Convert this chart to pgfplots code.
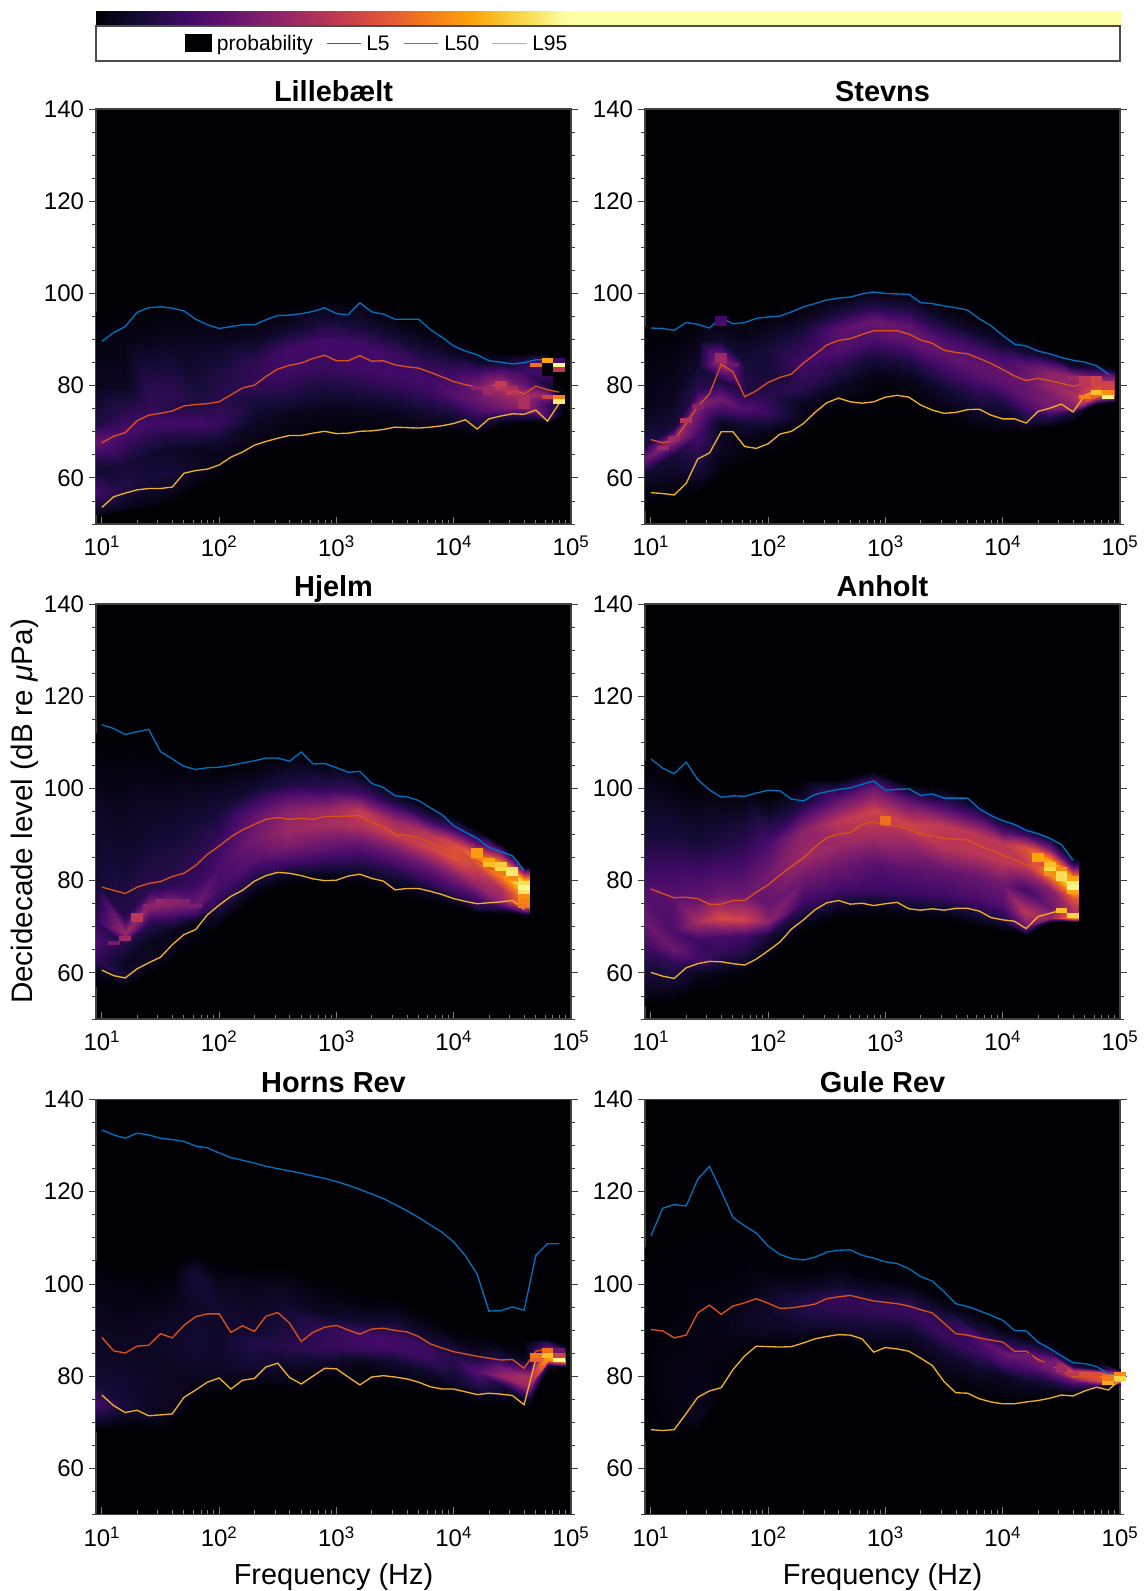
\documentclass[border=0pt]{standalone}
\usepackage{fontspec}
\setmainfont{Liberation Sans}
\usepackage{pgfplots}
\usepackage{pgfplotstable}
\pgfplotsset{compat=1.18}
\definecolor{cL5}{HTML}{0072BD}
\definecolor{cL50}{HTML}{D95319}
\definecolor{cL95}{HTML}{EDB120}
\pgfdeclareplotmark{cell}{\pgfpathrectangle{\pgfpoint{-4.4pt}{-1.73pt}}{\pgfpoint{8.8pt}{3.46pt}}\pgfusepathqfill}
\pgfplotsset{colormap={inf}{rgb255=(0,0,4) rgb255=(22,11,57) rgb255=(66,10,104) rgb255=(106,23,110) rgb255=(147,38,103) rgb255=(188,55,84) rgb255=(221,81,58) rgb255=(243,120,25) rgb255=(252,165,10) rgb255=(246,215,70) rgb255=(252,255,164)}}
\newcommand{\beginpanel}[3]{\begin{axis}[xmode=log,xmin=8.9125,xmax=100000,ymin=50,ymax=140,
 scale only axis,width=356.25pt,height=311.25pt,
 xtick={10,100,1000,10000,100000},
 xticklabels={10\textsuperscript{1},10\textsuperscript{2},10\textsuperscript{3},10\textsuperscript{4},10\textsuperscript{5}},
 ytick={60,80,100,120,140},minor ytick={50,55,...,140},
 xtick pos=bottom,ytick pos=both,tick align=outside,
 major tick length=5.5pt,minor tick length=3pt,
 tick style={black!75,line width=.6pt},
 major x tick style={gray,yshift=5.5pt},minor x tick style={gray,yshift=3pt},
 axis line style={black!75,line width=.8pt},
 axis background/.style={fill={rgb,255:red,0;green,0;blue,4}},
 point meta min=0,point meta max=1,
 tick label style={font=\fontsize{18}{20}\selectfont},
 /pgf/number format/assume math mode=true,
 title style={font=\fontsize{21.7}{24}\bfseries\selectfont,at={(0.5,1)},anchor=base,yshift=-0.5pt},
 xlabel style={font=\fontsize{21.7}{24}\selectfont},
 ylabel style={font=\fontsize{22.2}{24}\selectfont},
 xlabel shift=6pt,ylabel shift=-3pt,
 at={(#1,#2)},anchor=south west,#3]}
\newcommand{\heatplot}{\addplot[surf,shader=interp,mesh/ordering=y varies,mesh/rows=8,point meta=explicit] table[x=f,y=y,meta=c]}
\newcommand{\cellplot}{\addplot[scatter,only marks,mark=cell,scatter src=explicit,scatter/use mapped color={draw=none,fill=mapped color}] table[x=f,y=y,meta=c]}
\newcommand{\lines}[1]{
\addplot[cL5,line width=1pt,no marks] table[x=f,y=a]{#1};
\addplot[cL50,line width=1pt,no marks] table[x=f,y=b]{#1};
\addplot[cL95,line width=1pt,no marks] table[x=f,y=c]{#1};
}
\pgfplotstableread{
f a b c
10 89.6 67.6 53.6
12.6 91.5 69.0 55.9
15.8 92.8 69.8 56.7
20 95.9 72.4 57.4
25.1 96.9 73.6 57.7
31.6 97.1 74.0 57.7
39.8 96.8 74.5 58.0
50.1 96.2 75.6 61.0
63.1 94.4 75.9 61.6
79.4 93.2 76.1 61.9
100 92.4 76.5 62.8
126 92.8 78.0 64.5
158 93.2 79.5 65.6
200 93.2 80.1 67.1
251 94.3 82.0 67.9
316 95.2 83.6 68.6
398 95.3 84.4 69.2
501 95.6 84.9 69.2
631 96.1 85.9 69.7
794 96.9 86.6 70.1
1000 95.6 85.4 69.6
1259 95.4 85.4 69.7
1585 98.0 86.5 70.1
1995 96.0 85.3 70.2
2512 95.5 85.4 70.5
3162 94.4 84.5 71.0
3981 94.4 84.1 70.9
5012 94.4 83.8 70.8
6310 92.2 82.9 71.0
7943 90.5 81.9 71.3
10000 88.6 80.9 71.8
12589 87.5 80.2 72.6
15849 86.7 79.7 70.6
19953 85.4 79.8 72.8
25119 85.1 80.2 73.4
31623 84.7 79.2 73.9
39811 85.0 78.2 73.8
50119 85.6 79.9 74.7
63096 85.7 79.1 72.3
79433 84.3 78.6 76.2
}\tA
\pgfplotstableread{
f a b c
10 92.5 68.3 56.8
12.6 92.4 67.6 56.6
15.8 92.0 68.2 56.3
20 93.7 71.8 58.8
25.1 93.3 75.5 64.1
31.6 92.5 78.2 65.4
39.8 94.8 84.6 70.0
50.1 93.4 83.0 70.0
63.1 93.7 77.6 66.8
79.4 94.6 78.9 66.4
100 94.9 80.7 67.4
126 95.1 81.8 69.5
158 96.0 82.5 70.1
200 97.1 84.9 71.8
251 97.8 86.8 74.2
316 98.6 88.8 76.3
398 99.0 89.8 77.3
501 99.2 90.2 76.5
631 99.9 91.1 76.2
794 100.3 91.9 76.5
1000 100.0 91.9 77.5
1259 99.9 91.9 77.9
1585 99.8 91.2 77.5
1995 98.0 89.9 75.8
2512 97.8 89.2 74.7
3162 97.3 87.7 74.0
3981 96.9 87.2 74.2
5012 96.4 86.9 74.8
6310 94.5 85.9 74.9
7943 93.0 84.8 73.6
10000 90.9 83.5 72.8
12589 89.0 82.1 72.8
15849 88.6 81.1 71.9
19953 87.5 81.6 74.4
25119 86.9 81.1 75.1
31623 86.1 80.5 76.0
39811 85.5 79.9 74.3
50119 85.1 80.4 77.9
63096 84.3 80.4 78.9
79433 82.5 79.1 78.0
}\tB
\pgfplotstableread{
f a b c
10 113.8 78.6 60.6
12.6 113.0 77.9 59.4
15.8 111.7 77.2 58.9
20 112.3 78.6 60.9
25.1 112.8 79.4 62.2
31.6 108.0 79.8 63.4
39.8 106.4 80.9 66.1
50.1 104.8 81.6 68.3
63.1 104.1 83.3 69.4
79.4 104.5 85.7 72.6
100 104.6 87.5 74.7
126 105.0 89.5 76.6
158 105.5 91.0 77.9
200 106.0 92.2 79.9
251 106.6 93.3 81.1
316 106.6 93.7 81.8
398 105.9 93.3 81.6
501 107.9 93.5 81.1
631 105.3 93.3 80.4
794 105.4 93.9 80.0
1000 104.5 93.9 80.1
1259 103.5 94.0 81.0
1585 103.7 94.1 81.4
1995 101.1 92.6 80.5
2512 100.2 91.7 79.9
3162 98.4 90.0 78.0
3981 98.2 89.8 78.3
5012 97.4 89.3 78.3
6310 95.8 88.2 77.7
7943 94.3 87.2 77.0
10000 91.9 85.7 76.1
12589 90.5 84.8 75.5
15849 89.2 84.3 75.0
19953 87.2 82.8 75.2
25119 86.3 81.9 75.4
31623 85.4 81.2 75.7
39811 82.2 78.4 73.8
}\tC
\pgfplotstableread{
f a b c
10 106.4 78.2 60.1
12.6 104.4 77.2 59.3
15.8 103.2 76.3 58.8
20 105.7 76.4 61.1
25.1 101.9 76.1 62.0
31.6 99.7 74.9 62.5
39.8 98.1 74.9 62.4
50.1 98.4 75.7 62.0
63.1 98.3 75.7 61.7
79.4 99.0 77.5 63.0
100 99.6 79.1 64.8
126 99.5 81.2 66.7
158 97.7 83.1 69.5
200 97.3 84.9 71.5
251 98.7 87.3 73.7
316 99.3 89.3 75.2
398 99.8 90.1 75.7
501 100.1 90.4 74.9
631 100.9 92.2 75.1
794 101.6 92.8 74.6
1000 99.6 91.9 75.0
1259 99.8 91.9 75.3
1585 99.9 91.1 73.9
1995 98.5 90.0 73.6
2512 98.8 89.8 73.9
3162 97.9 89.1 73.6
3981 97.9 89.0 74.0
5012 97.9 88.8 74.0
6310 95.6 87.6 73.4
7943 94.1 86.6 72.0
10000 93.0 85.5 71.5
12589 92.2 84.5 71.2
15849 90.9 83.4 69.6
19953 90.2 83.9 72.2
25119 89.2 82.6 72.9
31623 87.8 81.4 73.6
39811 84.4 78.6 72.2
}\tD
\pgfplotstableread{
f a b c
10 133.4 88.4 75.9
12.6 132.3 85.5 73.6
15.8 131.6 85.0 72.1
20 132.7 86.5 72.6
25.1 132.3 86.7 71.4
31.6 131.6 89.2 71.6
39.8 131.3 88.3 71.8
50.1 130.9 91.0 75.4
63.1 129.9 92.9 77.0
79.4 129.5 93.5 78.7
100 128.4 93.5 79.6
126 127.4 89.5 77.2
158 126.8 90.9 79.1
200 126.2 89.7 79.5
251 125.5 93.0 82.0
316 125.0 93.8 82.8
398 124.5 91.5 79.7
501 124.0 87.5 78.3
631 123.4 89.5 80.0
794 122.9 90.6 81.7
1000 122.2 91.0 81.6
1259 121.4 90.0 79.8
1585 120.5 89.1 78.1
1995 119.5 90.2 79.8
2512 118.5 90.4 80.1
3162 117.2 89.9 79.8
3981 115.9 89.6 79.4
5012 114.4 88.6 78.7
6310 112.8 87.0 77.7
7943 111.2 86.1 77.2
10000 109.1 85.3 77.2
12589 106.1 84.8 76.6
15849 102.1 84.3 76.0
19953 94.1 83.9 76.3
25119 94.2 83.5 76.1
31623 95.0 83.6 75.8
39811 94.3 81.7 73.8
50119 106.2 85.4 83.7
63096 108.7 85.9 84.4
79433 108.7 83.6 83.5
}\tE
\pgfplotstableread{
f a b c
10 110.4 90.1 68.4
12.6 116.4 89.8 68.2
15.8 117.2 88.3 68.4
20 116.9 88.9 71.9
25.1 122.7 93.7 75.4
31.6 125.5 95.4 76.8
39.8 120.1 93.4 77.5
50.1 114.4 95.2 81.4
63.1 112.6 95.9 84.4
79.4 111.0 96.8 86.5
100 108.2 95.8 86.4
126 106.4 94.7 86.3
158 105.5 94.8 86.4
200 105.2 95.2 87.2
251 105.8 95.6 88.1
316 106.9 96.8 88.6
398 107.3 97.2 89.0
501 107.4 97.5 88.9
631 106.2 96.9 88.1
794 105.6 96.3 85.2
1000 104.8 96.0 86.2
1259 104.4 95.7 85.9
1585 103.3 95.2 85.4
1995 101.6 94.4 83.9
2512 100.6 93.7 82.3
3162 98.3 91.5 78.8
3981 95.7 89.2 76.4
5012 95.1 88.9 76.3
6310 94.2 88.3 75.1
7943 93.2 87.8 74.4
10000 92.1 87.4 74.0
12589 89.9 85.4 74.0
15849 89.8 85.4 74.4
19953 87.4 83.6 74.7
25119 86.0 82.5 75.2
31623 84.4 81.4 75.9
39811 82.9 79.8 75.7
50119 82.7 79.9 76.8
63096 82.1 79.8 77.6
79433 80.5 78.6 77.0
100000 80.6 80.3 79.2
}\tF
\begin{document}
\begin{tikzpicture}
\path[use as bounding box] (0,0) rectangle (858.75pt,1193.25pt);
% colour scale
\begin{axis}[at={(72pt,1173.75pt)},anchor=south west,scale only axis,width=768pt,height=11.25pt,xmin=0,xmax=1,ymin=0,ymax=1,ticks=none,axis line style={black!70,line width=.7pt},point meta min=0,point meta max=1]
\addplot[surf,shader=interp,mesh/cols=3,point meta=explicit] table[x=x,y=y,meta=c]{
x y c
0 0 0
0.46 0 1
1 0 1
0 1 0
0.46 1 1
1 1 1
};
\end{axis}
\draw[black!70,line width=.8pt] (72pt,1147.5pt) rectangle (840pt,1173.75pt);
\fill[fill={rgb,255:red,0;green,0;blue,4}] (138.5pt,1154pt) rectangle (159pt,1168pt);
\node[anchor=base west,inner sep=0pt,font=\fontsize{15.8}{18}\selectfont] at (162.5pt,1155pt) {probability};
\draw[cL5,line width=1pt] (245pt,1160.5pt) -- (271pt,1160.5pt);
\node[anchor=base west,inner sep=0pt,font=\fontsize{15.8}{18}\selectfont] at (274.5pt,1155pt) {L5};
\draw[cL50,line width=1pt] (303pt,1160.5pt) -- (328.5pt,1160.5pt);
\node[anchor=base west,inner sep=0pt,font=\fontsize{15.8}{18}\selectfont] at (333pt,1155pt) {L50};
\draw[cL95,line width=1pt] (369pt,1160.5pt) -- (395pt,1160.5pt);
\node[anchor=base west,inner sep=0pt,font=\fontsize{15.8}{18}\selectfont] at (399pt,1155pt) {L95};
% Lillebaelt
\beginpanel{72pt}{800.25pt}{title={Lillebælt}}
\heatplot{
f y c
8.9 52 .03
8.9 57 .2
8.9 62 .08
8.9 68 .28
8.9 72 .12
8.9 80 .05
8.9 88 .03
8.9 96 0
15.8 53 .03
15.8 58 .12
15.8 63 .1
15.8 70 .22
15.8 74 .15
15.8 80 .05
15.8 90 .03
15.8 97 0
25.1 54 .02
25.1 60 .1
25.1 65 .08
25.1 72 .2
25.1 75 .17
25.1 79 .15
25.1 90 .04
25.1 98 0
39.8 55 .02
39.8 61 .1
39.8 66 .06
39.8 72 .2
39.8 75 .14
39.8 79 .15
39.8 90 .05
39.8 98 0
63.1 58 .01
63.1 63 .06
63.1 66 .05
63.1 72 .2
63.1 76 .12
63.1 80 .1
63.1 90 .05
63.1 97 0
100 60 0
100 64 .04
100 68 .08
100 72 .18
100 77 .14
100 82 .12
100 90 .05
100 95 0
200 64 0
200 68 .03
200 72 .06
200 76 .1
200 80 .16
200 85 .16
200 90 .06
200 95 0
398 66 0
398 70 .02
398 74 .05
398 79 .14
398 84 .2
398 88 .2
398 92 .08
398 97 0
794 68 0
794 71 .02
794 75 .04
794 79 .1
794 84 .18
794 90 .2
794 94 .1
794 99 0
1585 68 0
1585 71 .02
1585 75 .05
1585 79 .12
1585 84 .2
1585 89 .2
1585 93 .1
1585 99 0
3162 69 0
3162 72 .03
3162 75 .06
3162 79 .15
3162 83 .2
3162 87 .18
3162 91 .08
3162 96 0
6310 69 0
6310 72 .05
6310 75 .1
6310 78 .17
6310 81 .2
6310 85 .15
6310 89 .06
6310 93 0
10000 70 0
10000 72 .06
10000 75 .14
10000 78 .25
10000 81 .22
10000 84 .15
10000 87 .06
10000 91 0
15849 69 0
15849 71 .08
15849 74 .2
15849 77 .3
15849 80 .32
15849 83 .2
15849 85 .08
15849 88 0
25119 71 0
25119 73 .1
25119 75 .3
25119 78 .4
25119 80 .48
25119 83 .25
25119 85 .08
25119 87 0
39811 72 0
39811 74 .2
39811 75.5 .4
39811 78 .45
39811 80 .3
39811 83 .2
39811 85 .15
39811 87 0
63096 72 0
63096 73 .2
63096 76 .2
63096 78 .4
63096 80 .1
63096 83 .2
63096 85 .3
63096 87 0
89125 74 0
89125 75 0
89125 76 0
89125 77 0
89125 78 0
89125 80 0
89125 83 0
89125 85 0
};
\cellplot{
f y c
15849 79.5 .38
19953 79.5 .42
19953 78.5 .42
25119 80.5 .52
25119 79.5 .5
31623 79.5 .45
31623 78.5 .5
39811 77.5 .45
39811 76.5 .45
39811 75.5 .45
50119 84.5 .68
63096 85.5 .8
79433 85.5 .2
79433 84.5 .98
79433 83.5 .5
79433 77.5 .72
79433 76.5 .95
63096 77.5 .55
63096 84.5 0
63096 83.5 0
63096 82.5 0
79433 82.5 0
79433 81.5 0
79433 80.5 0
79433 79.5 .02
};
\lines{\tA}
\end{axis}
% Stevns
\beginpanel{483.75pt}{800.25pt}{title={Stevns}}
\heatplot{
f y c
8.9 53 0
8.9 57 .03
8.9 61 .08
8.9 64 .3
8.9 67 .12
8.9 75 .04
8.9 85 .02
8.9 93 0
15.8 55 0
15.8 60 .05
15.8 65 .1
15.8 68.5 .42
15.8 71 .1
15.8 78 .05
15.8 85 .03
15.8 93 0
25.1 57 0
25.1 62 .1
25.1 69 .2
25.1 76 .36
25.1 79 .15
25.1 84 .08
25.1 90 .04
25.1 95 0
39.8 60 0
39.8 66 .05
39.8 72 .05
39.8 77 .32
39.8 81 .12
39.8 85 .42
39.8 90 .08
39.8 96 0
63.1 62 0
63.1 68 .03
63.1 72 .1
63.1 75 .24
63.1 79 .12
63.1 85 .1
63.1 90 .05
63.1 95 0
100 64 0
100 70 .03
100 74 .18
100 78 .14
100 83 .1
100 88 .1
100 92 .05
100 96 0
200 68 0
200 72 .02
200 76 .05
200 80 .15
200 85 .2
200 90 .14
200 94 .06
200 98 0
398 72 0
398 76 .02
398 80 .06
398 84 .14
398 88 .24
398 92 .26
398 96 .1
398 100 0
794 73 0
794 78 .01
794 82 .03
794 86 .1
794 90 .22
794 94 .3
794 97 .14
794 101 0
1585 73 0
1585 78 .01
1585 82 .05
1585 86 .14
1585 90 .28
1585 93 .27
1585 97 .1
1585 101 0
3162 71 0
3162 75 .03
3162 79 .08
3162 83 .18
3162 87 .28
3162 90 .22
3162 94 .08
3162 98 0
6310 70 0
6310 73 .05
6310 77 .12
6310 81 .22
6310 84 .28
6310 88 .2
6310 91 .08
6310 95 0
10000 69 0
10000 72 .04
10000 76 .1
10000 80 .25
10000 83 .28
10000 86 .2
10000 89 .08
10000 92 0
15849 70 0
15849 72 .08
15849 75 .2
15849 78 .28
15849 81 .3
15849 84 .28
15849 87 .1
15849 90 0
25119 71 0
25119 73 .12
25119 75 .32
25119 78 .35
25119 80 .4
25119 83 .38
25119 86 .1
25119 88 0
39811 72 0
39811 74 .1
39811 75 .35
39811 78 .45
39811 80 .4
39811 82 .38
39811 84 .1
39811 86 0
63096 76 0
63096 77 .4
63096 78 .7
63096 79.5 .6
63096 81 .5
63096 82 .3
63096 84 .08
63096 85 0
89125 76.5 0
89125 77 .3
89125 78 .6
89125 79.5 .5
89125 81 .4
89125 82 .3
89125 83 .1
89125 84 0
};
\cellplot{
f y c
12.6 66.5 .42
15.8 68.5 .42
20 72.5 .48
25.1 75.5 .38
39.8 85.5 .42
39.8 86.5 .42
50.1 84.5 .3
39811 81.5 .42
50119 81.5 .5
50119 80.5 .5
63096 81.5 .55
63096 80.5 .55
79433 80.5 .55
50119 77.5 .72
63096 78.5 .85
79433 77.5 .97
79433 78.5 .75
79433 79.5 .55
39.8 94.5 .2
39.8 93.5 .22
};
\lines{\tB}
\end{axis}
% Hjelm
\beginpanel{72pt}{429pt}{title={Hjelm},ylabel={Decidecade level (dB re \textit{μ}Pa)}}
\heatplot{
f y c
8.9 57 0
8.9 60 .04
8.9 63 .16
8.9 67 .22
8.9 71 .15
8.9 80 .08
8.9 95 .06
8.9 112 0
15.8 57 0
15.8 59 .1
15.8 62 .05
15.8 66 .12
15.8 68.5 .42
15.8 72 .14
15.8 85 .08
15.8 112 0
25.1 60 0
25.1 63 .06
25.1 67 .05
25.1 71 .15
25.1 74.5 .4
25.1 78 .15
25.1 90 .08
25.1 110 0
39.8 62 0
39.8 65 .03
39.8 69 .05
39.8 72 .18
39.8 75 .38
39.8 79 .15
39.8 92 .08
39.8 107 0
63.1 65 0
63.1 68 .02
63.1 71 .03
63.1 73 .2
63.1 74.5 .32
63.1 79 .18
63.1 92 .1
63.1 105 0
100 70 0
100 72 .05
100 75 .14
100 78 .2
100 83 .22
100 88 .18
100 95 .1
100 105 0
200 76 0
200 78 .04
200 81 .14
200 85 .26
200 89 .32
200 94 .28
200 100 .08
200 106 0
398 79 0
398 81 .04
398 84 .2
398 88 .36
398 91 .42
398 95 .38
398 101 .12
398 108 0
794 79 0
794 81 .03
794 84 .16
794 88 .3
794 92 .44
794 95 .42
794 100 .15
794 106 0
1585 79 0
1585 81 .04
1585 84 .14
1585 88 .28
1585 92 .48
1585 95 .52
1585 99 .2
1585 104 0
3162 77 0
3162 79 .05
3162 82 .14
3162 86 .3
3162 90 .52
3162 93 .42
3162 97 .12
3162 100 0
6310 75 0
6310 77 .05
6310 79 .14
6310 83 .3
6310 87 .55
6310 90 .5
6310 93 .18
6310 96 0
10000 74 0
10000 76 .08
10000 78 .2
10000 81 .35
10000 85 .6
10000 88 .58
10000 91 .2
10000 94 0
15849 73 0
15849 74 .12
15849 76 .2
15849 79 .4
15849 83 .55
15849 85 .72
15849 88 .28
15849 91 0
25119 73 0
25119 74 .15
25119 75.5 .4
25119 78 .45
25119 81 .72
25119 83 .9
25119 85.5 .4
25119 88 0
39811 72.5 0
39811 73.5 .3
39811 75 .7
39811 77 .8
39811 78.8 .98
39811 80 .85
39811 82 .3
39811 83 0
44668 72.5 0
44668 73.5 .3
44668 75 .7
44668 77 .8
44668 78.8 .98
44668 80 .85
44668 82 .3
44668 83 0
};
\cellplot{
f y c
12.6 66.5 .33
15.8 67.5 .42
20 72.5 .5
20 71.5 .5
25.1 74.5 .38
31.6 75.5 .4
39.8 75.5 .38
50.1 75.5 .36
63.1 74.5 .34
15849 86.5 .78
15849 85.5 .78
19953 84.5 .8
19953 83.5 .85
25119 83.5 .88
25119 82.5 .9
25119 81.5 .7
31623 82.5 .93
31623 81.5 .95
31623 80.5 .75
39811 79.5 .92
39811 78.5 .98
39811 77.5 .93
39811 76.5 .75
39811 75.5 .72
39811 74.5 .7
};
\lines{\tC}
\end{axis}
% Anholt
\beginpanel{483.75pt}{429pt}{title={Anholt}}
\heatplot{
f y c
8.9 53 0
8.9 57 .06
8.9 62 .12
8.9 66 .2
8.9 71 .3
8.9 78 .24
8.9 90 .1
8.9 106 0
15.8 54 0
15.8 58 .08
15.8 62 .15
15.8 65 .3
15.8 69 .22
15.8 76 .26
15.8 90 .1
15.8 103 0
25.1 56 0
25.1 60 .05
25.1 63 .2
25.1 67 .18
25.1 71 .45
25.1 76 .28
25.1 88 .1
25.1 101 0
39.8 56 0
39.8 60 .03
39.8 64 .16
39.8 68 .22
39.8 72 .58
39.8 77 .3
39.8 88 .12
39.8 100 0
63.1 58 0
63.1 61 .03
63.1 64 .12
63.1 68 .2
63.1 71.5 .55
63.1 77 .3
63.1 88 .15
63.1 100 0
100 62 0
100 65 .03
100 68 .1
100 71 .38
100 75 .28
100 81 .32
100 88 .22
100 98 0
200 69 0
200 71 .05
200 75 .18
200 80 .3
200 85 .42
200 91 .38
200 97 .1
200 102 0
398 72 0
398 74 .05
398 78 .2
398 83 .3
398 88 .42
398 93 .5
398 98 .25
398 102 0
794 72 0
794 74 .03
794 78 .18
794 84 .26
794 90 .45
794 95 .55
794 100 .3
794 104 0
1585 71 0
1585 73 .03
1585 77 .18
1585 82 .26
1585 88 .4
1585 92 .55
1585 97 .28
1585 101 0
3162 71 0
3162 73 .04
3162 77 .2
3162 82 .28
3162 87 .48
3162 92 .5
3162 96 .22
3162 100 0
6310 70 0
6310 72 .08
6310 76 .22
6310 81 .3
6310 86 .5
6310 90 .5
6310 94 .2
6310 97 0
10000 69 0
10000 71 .1
10000 75 .25
10000 79 .3
10000 84 .5
10000 88 .5
10000 91 .2
10000 94 0
15849 68 0
15849 70 .3
15849 73 .5
15849 78 .2
15849 83 .5
15849 87 .6
15849 90 .2
15849 92 0
25119 71 0
25119 72 .4
25119 74 .3
25119 78 .35
25119 81 .7
25119 84 .85
25119 87 .3
25119 90 0
39811 71 0
39811 72 .75
39811 73 .45
39811 76 .6
39811 79 .98
39811 81 .7
39811 83 .25
39811 85 0
44668 71 0
44668 72 .75
44668 73 .45
44668 76 .6
44668 79 .98
44668 81 .7
44668 83 .25
44668 85 0
};
\cellplot{
f y c
1000 93.5 .68
1000 92.5 .68
19953 85.5 .8
19953 84.5 .8
19953 83.5 .6
25119 83.5 .85
25119 82.5 .9
25119 81.5 .75
31623 82.5 .75
31623 81.5 .92
31623 80.5 .92
39811 80.5 .8
39811 79.5 .95
39811 78.5 .98
39811 77.5 .8
39811 72.5 .9
31623 73.5 .85
};
\lines{\tD}
\end{axis}
% Horns Rev
\beginpanel{72pt}{57.4pt}{title={Horns Rev},xlabel={Frequency (Hz)}}
\heatplot{
f y c
8.9 68 0
8.9 71 .1
8.9 74 .2
8.9 78 .1
8.9 85 .06
8.9 92 .05
8.9 100 .03
8.9 105 0
15.8 69 0
15.8 71 .04
15.8 74 .1
15.8 79 .08
15.8 85 .06
15.8 92 .04
15.8 100 .02
15.8 106 0
25.1 69 0
25.1 71 .06
25.1 74 .06
25.1 79 .06
25.1 85 .06
25.1 92 .05
25.1 98 .02
25.1 105 0
39.8 69 0
39.8 72 .04
39.8 75 .06
39.8 80 .05
39.8 86 .07
39.8 92 .06
39.8 98 .03
39.8 104 0
63.1 74 0
63.1 77 .02
63.1 80 .05
63.1 85 .08
63.1 90 .08
63.1 95 .07
63.1 102 .1
63.1 107 0
100 75 0
100 78 .03
100 81 .06
100 85 .07
100 90 .07
100 95 .08
100 100 .05
100 105 0
200 77 0
200 79 .02
200 83 .1
200 87 .13
200 90 .08
200 95 .06
200 100 .04
200 104 0
398 76 0
398 78 .02
398 82 .06
398 86 .14
398 90 .12
398 95 .08
398 100 .04
398 104 0
794 78 0
794 80 .02
794 83 .08
794 86 .17
794 90 .16
794 94 .05
794 98 .02
794 102 0
1585 77 0
1585 79 .01
1585 83 .04
1585 86 .18
1585 89 .2
1585 92 .08
1585 95 .03
1585 98 0
3162 77 0
3162 79 .02
3162 83 .08
3162 86 .2
3162 89 .18
3162 92 .08
3162 95 .03
3162 97 0
6310 76 0
6310 78 .02
6310 81 .08
6310 84 .18
6310 86 .18
6310 88 .08
6310 91 .03
6310 94 0
10000 75 0
10000 77 .04
10000 79 .08
10000 82 .12
10000 84 .14
10000 86 .1
10000 88 .03
10000 91 0
15849 74 0
15849 76 .04
15849 78 .14
15849 81 .25
15849 83 .15
15849 85 .06
15849 88 .02
15849 90 0
25119 74 0
25119 76 .05
25119 78 .1
25119 80 .4
25119 82 .3
25119 84 .12
25119 86 .03
25119 88 0
39811 73 0
39811 75 .05
39811 78 .42
39811 80 .45
39811 82 .2
39811 84 .03
39811 86 .01
39811 88 0
44668 73 0
44668 75 .05
44668 78 .42
44668 80 .45
44668 82 .2
44668 84 .1
44668 86 .1
44668 88 0
63096 81 0
63096 82.5 .1
63096 83.5 .75
63096 84.5 .85
63096 85.5 .5
63096 86 .3
63096 87 .2
63096 88 0
89125 82 0
89125 83 .7
89125 83.5 .8
89125 84 .5
89125 85 .3
89125 85.5 .2
89125 86 .1
89125 87 0
};
\cellplot{
f y c
50119 84.5 .7
50119 83.5 .65
63096 85.5 .68
63096 84.5 .85
79433 83.5 .98
79433 84.5 .55
79433 85.5 .3
};
\lines{\tE}
\end{axis}
% Gule Rev
\beginpanel{483.75pt}{57.4pt}{title={Gule Rev},xlabel={Frequency (Hz)}}
\heatplot{
f y c
8.9 66 0
8.9 70 .01
8.9 76 .01
8.9 82 .01
8.9 88 .01
8.9 95 .01
8.9 102 .01
8.9 108 0
15.8 66 0
15.8 70 .02
15.8 76 .03
15.8 82 .03
15.8 88 .02
15.8 95 .01
15.8 102 .01
15.8 110 0
25.1 68 0
25.1 71 .05
25.1 76 .04
25.1 82 .03
25.1 88 .03
25.1 95 .02
25.1 105 .01
25.1 115 0
39.8 76 0
39.8 78 .01
39.8 82 .02
39.8 88 .03
39.8 92 .03
39.8 96 .02
39.8 104 .01
39.8 114 0
63.1 84 0
63.1 86 .01
63.1 89 .04
63.1 93 .06
63.1 96 .04
63.1 100 .02
63.1 105 .01
63.1 112 0
100 85 0
100 87 .02
100 90 .06
100 93 .07
100 96 .07
100 100 .04
100 103 .01
100 108 0
200 86 0
200 88 .03
200 91 .08
200 94 .12
200 96 .13
200 99 .06
200 102 .02
200 106 0
398 87 0
398 89 .03
398 92 .1
398 95 .16
398 97 .17
398 100 .07
398 103 .02
398 107 0
794 85 0
794 87 .03
794 90 .08
794 93 .14
794 95.5 .17
794 98 .08
794 101 .02
794 105 0
1585 84 0
1585 86 .03
1585 90 .08
1585 93 .16
1585 95 .18
1585 97 .1
1585 100 .02
1585 104 0
3162 78 0
3162 81 .03
3162 85 .08
3162 89 .18
3162 92 .14
3162 95 .05
3162 97 .01
3162 100 0
6310 74 0
6310 77 .02
6310 81 .06
6310 85 .18
6310 88 .24
6310 90 .1
6310 93 .02
6310 95 0
10000 74 0
10000 76 .02
10000 80 .06
10000 83 .22
10000 85 .3
10000 87 .15
10000 90 .02
10000 92 0
15849 74 0
15849 76 .03
15849 79 .08
15849 82 .22
15849 84 .3
15849 86 .15
15849 88 .04
15849 90 0
25119 75 0
25119 77 .04
25119 79 .12
25119 81 .28
25119 83 .35
25119 85 .15
25119 87 .03
25119 88 0
39811 76 0
39811 77.5 .12
39811 79 .28
39811 80 .5
39811 81 .6
39811 82 .15
39811 83 .03
39811 84 0
63096 77 0
63096 78 .2
63096 79 .55
63096 80 .62
63096 81 .55
63096 81.5 .1
63096 82 .02
63096 83 0
100000 78 0
100000 78.5 .4
100000 79 .8
100000 79.5 .9
100000 80 .8
100000 80.5 .6
100000 81 .3
100000 81.5 0
};
\cellplot{
f y c
12589 84.5 .3
15849 84.5 .3
25119 82.5 .33
31623 81.5 .42
39811 80.5 .5
50119 80.5 .58
63096 80.5 .58
79433 79.5 .7
79433 78.5 .82
100000 80.5 .75
100000 79.5 .9
};
\lines{\tF}
\end{axis}
\end{tikzpicture}
\end{document}
